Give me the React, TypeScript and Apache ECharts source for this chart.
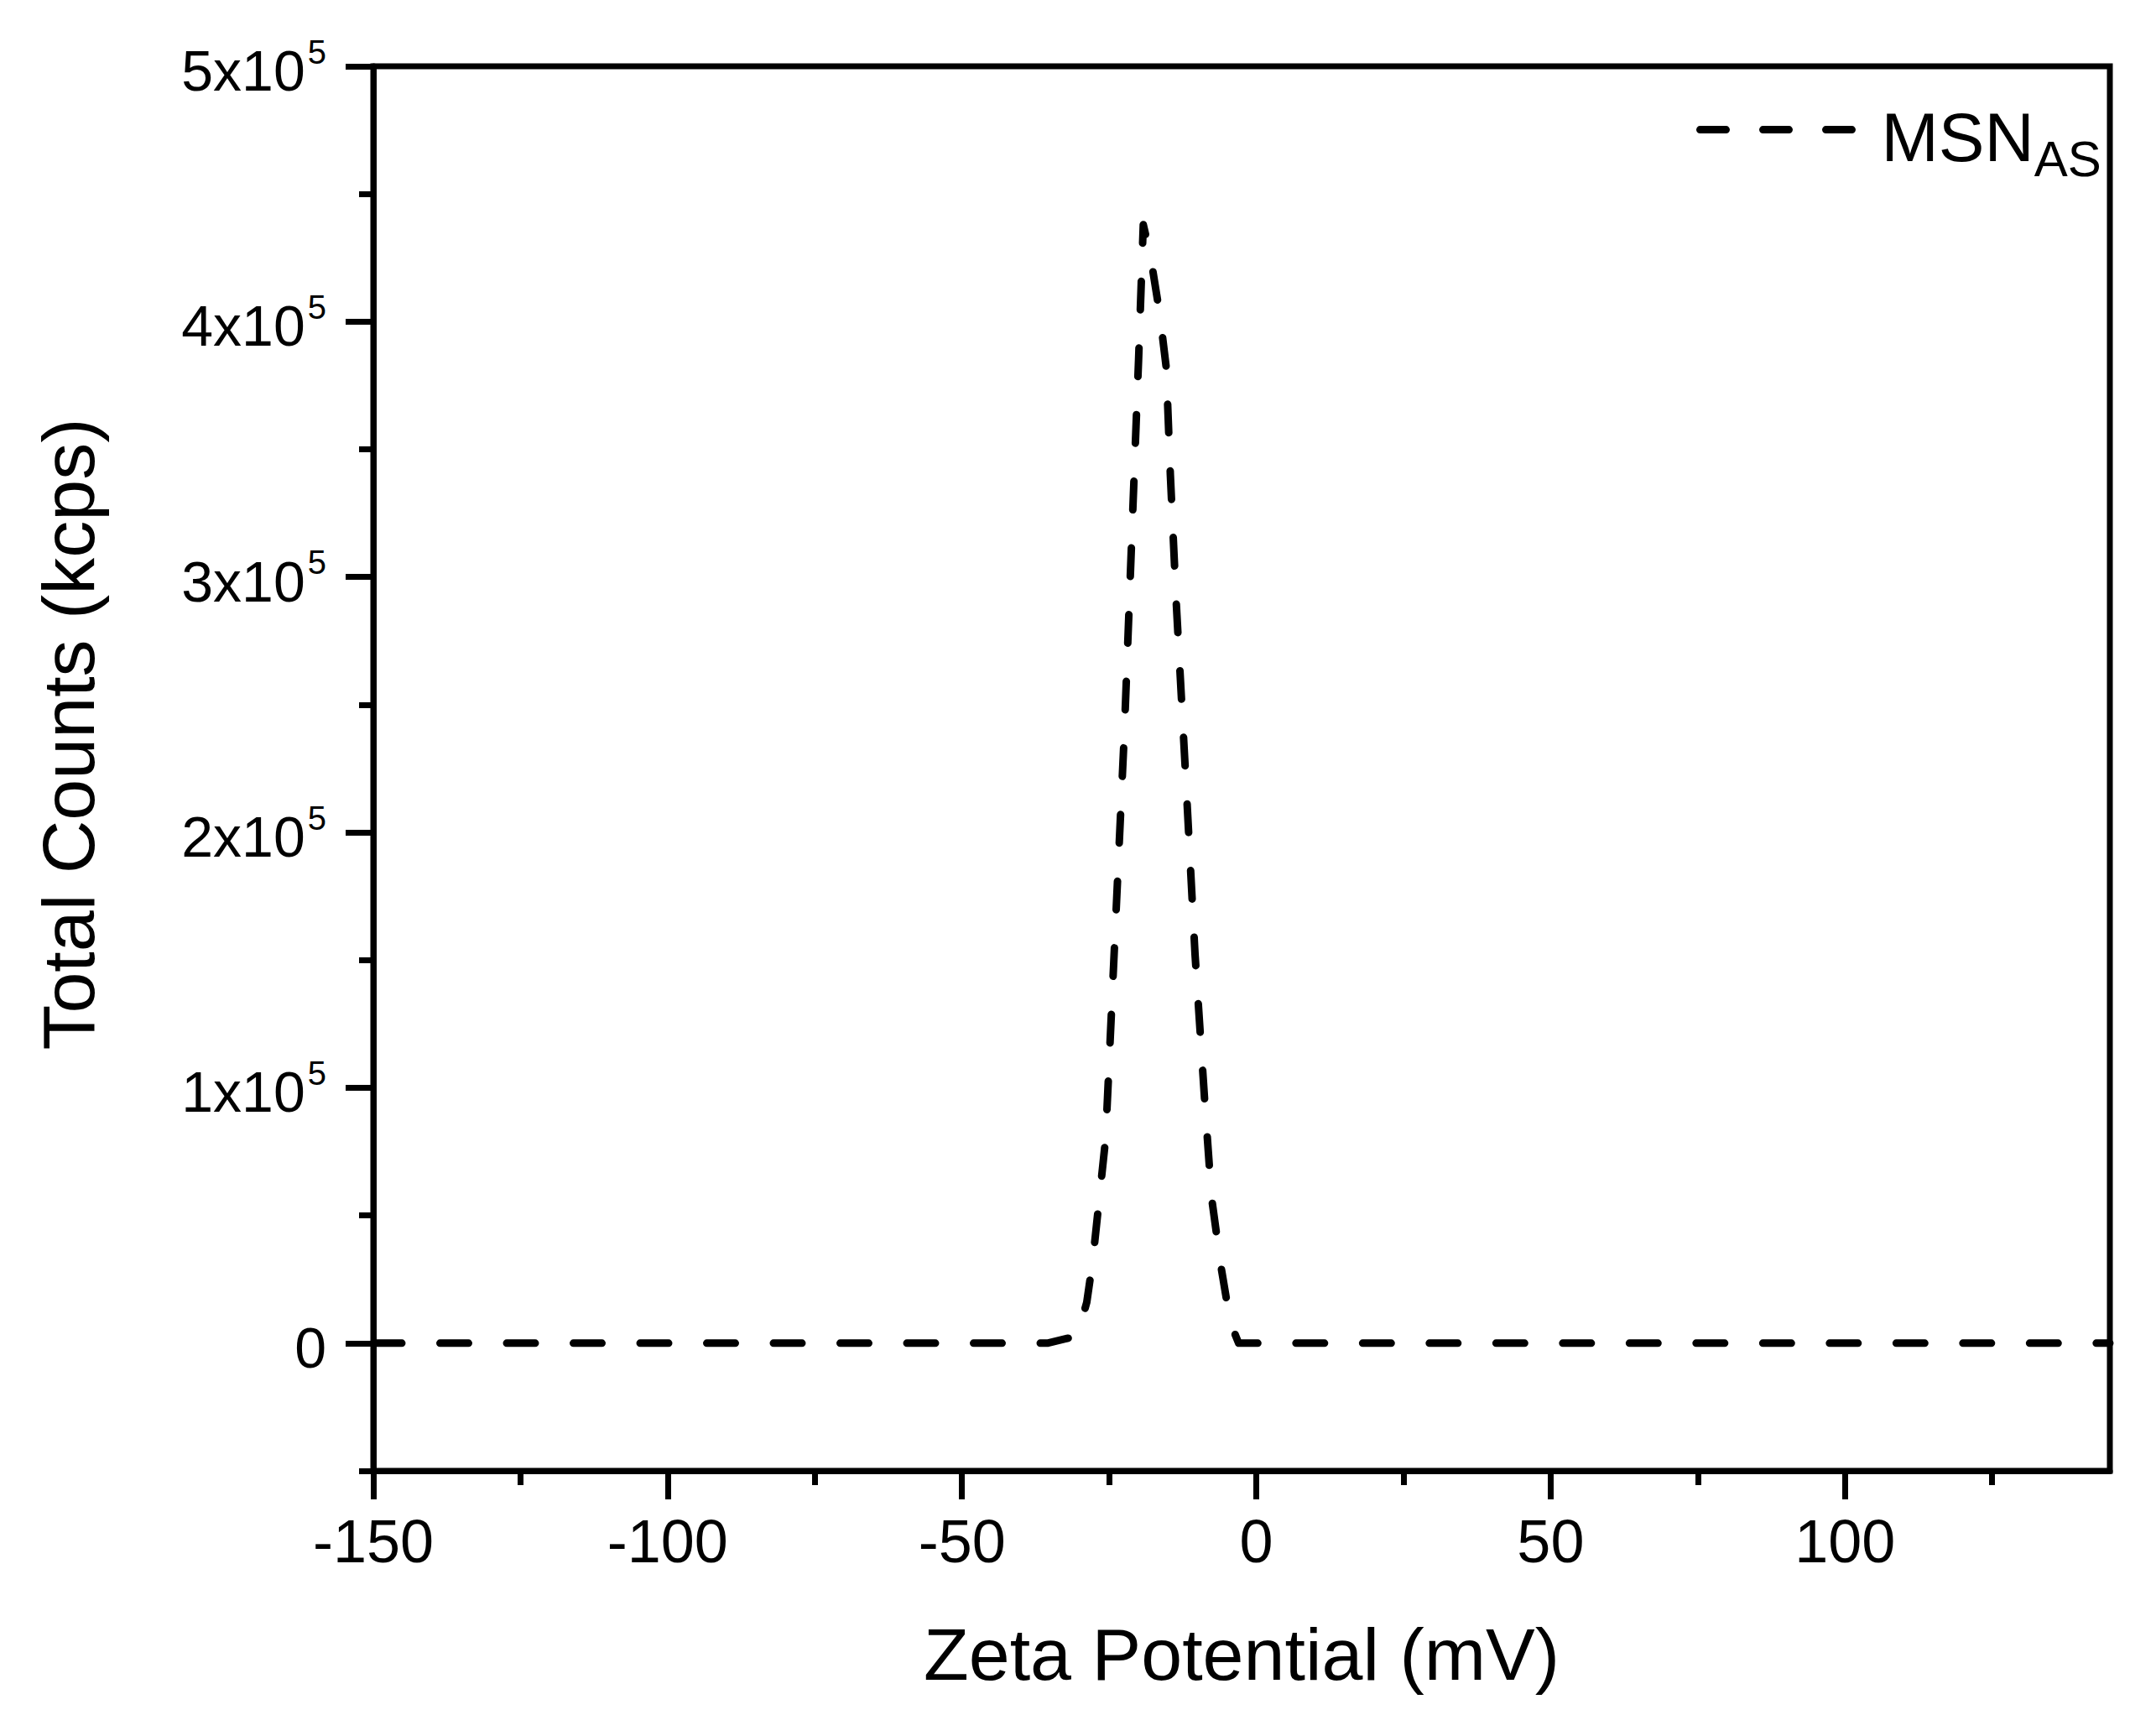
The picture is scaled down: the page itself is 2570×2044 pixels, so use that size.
import React, { useEffect, useRef } from "react";
import * as echarts from "echarts";

// ---- data ----
const zetaPotential = [
  -150, -35.5, -30.4, -28.8, -27.8, -25.6, -24.0, -22.4, -21.0, -20.0, -19.2,
  -18.0, -16.4, -15.3, -14.6, -13.6, -12.0, -10.4, -8.8, -7.6, -6.0, -4.4, -3.0, 145,
];
const totalCounts = [
  0, 0, 2800, 16000, 32000, 80000, 160000, 240000, 325000, 385000, 438000,
  426000, 403000, 382000, 340000, 290000, 222000, 152000, 96000, 57000, 30000, 8000, 0, 0,
];
const xMajorTicks = [-150, -100, -50, 0, 50, 100];
const xMinorTicks = [-125, -75, -25, 25, 75, 125];
const yMajorTicks = [0, 100000, 200000, 300000, 400000, 500000];
const yMinorTicks = [-50000, 50000, 150000, 250000, 350000, 450000];
const seriesName = "MSNAS";

const FONT = "'Liberation Sans', Arial, Helvetica, sans-serif";

export default function App() {
  const ref = useRef<HTMLDivElement>(null);

  useEffect(() => {
    if (!ref.current) return;
    const chart = echarts.init(ref.current, undefined, { renderer: "svg" });
    const data = zetaPotential.map((x, i) => [x, totalCounts[i]]);
    const gridBox = { left: 437, top: 71, right: 47, bottom: 283 };
    const tickStyle = { color: "#000", width: 7 };

    const option: any = {
      animation: false,
      backgroundColor: "#fff",
      textStyle: { fontFamily: FONT },
      grid: [
        { ...gridBox, show: true, borderColor: "#000", borderWidth: 7, backgroundColor: "transparent" },
        { ...gridBox, show: false },
      ],
      xAxis: [
        {
          type: "value",
          gridIndex: 0,
          min: -150,
          max: 145,
          position: "bottom",
          name: "Zeta Potential (mV)",
          nameLocation: "middle",
          nameGap: 174,
          nameTextStyle: { fontSize: 88, color: "#000", fontFamily: FONT },
          axisLine: { show: true, onZero: false, lineStyle: tickStyle },
          axisTick: { show: true, customValues: xMajorTicks, length: 34, lineStyle: tickStyle },
          axisLabel: {
            show: true,
            customValues: xMajorTicks,
            margin: 48,
            fontSize: 72,
            color: "#000",
            fontFamily: FONT,
          },
          splitLine: { show: false },
        },
        {
          type: "value",
          gridIndex: 1,
          min: -150,
          max: 145,
          position: "bottom",
          axisLine: { show: false, onZero: false },
          axisTick: { show: true, customValues: xMinorTicks, length: 17, lineStyle: tickStyle },
          axisLabel: { show: false },
          splitLine: { show: false },
        },
      ],
      yAxis: [
        {
          type: "value",
          gridIndex: 0,
          min: -50000,
          max: 500000,
          position: "left",
          name: "Total Counts (kcps)",
          nameLocation: "middle",
          nameRotate: 90,
          nameGap: 320,
          nameTextStyle: { fontSize: 88, color: "#000", fontFamily: FONT, padding: [0, 0, 0, 82] },
          axisLine: { show: true, onZero: false, lineStyle: tickStyle },
          axisTick: { show: true, customValues: yMajorTicks, length: 33, lineStyle: tickStyle },
          axisLabel: {
            show: true,
            customValues: yMajorTicks,
            margin: 56,
            color: "#000",
            padding: [10, 0, 0, 0],
            formatter: (v: number) =>
              v === 0 ? "{a|0}" : `{a|${Math.round(v / 100000)}x10}{b|5}`,
            rich: {
              a: { fontSize: 68, lineHeight: 85, fontFamily: FONT, color: "#000" },
              b: {
                fontSize: 40,
                lineHeight: 40,
                verticalAlign: "top",
                fontFamily: FONT,
                color: "#000",
                padding: [0, 0, 0, 3],
              },
            },
          },
          splitLine: { show: false },
        },
        {
          type: "value",
          gridIndex: 1,
          min: -50000,
          max: 500000,
          position: "left",
          axisLine: { show: false, onZero: false },
          axisTick: { show: true, customValues: yMinorTicks, length: 17, lineStyle: tickStyle },
          axisLabel: { show: false },
          splitLine: { show: false },
        },
      ],
      legend: {
        show: true,
        data: [seriesName],
        left: 2014,
        top: 95,
        padding: 0,
        itemWidth: 181,
        itemHeight: 129,
        selectedMode: false,
        formatter: () => "{m|MSN}{s|AS}",
        itemStyle: { opacity: 0, borderWidth: 0 },
        lineStyle: { color: "#000", width: 9, type: [31, 44], cap: "round" },
        textStyle: {
          color: "#000",
          padding: [32, 0, 0, 30],
          rich: {
            m: { fontSize: 82, lineHeight: 82, verticalAlign: "top", fontFamily: FONT, color: "#000" },
            s: { fontSize: 60, lineHeight: 97, verticalAlign: "bottom", fontFamily: FONT, color: "#000" },
          },
        },
      },
      series: [
        {
          type: "line",
          name: seriesName,
          xAxisIndex: 0,
          yAxisIndex: 0,
          data,
          symbol: "none",
          showSymbol: false,
          lineStyle: {
            color: "#000",
            width: 9,
            type: [34, 45.5],
            cap: "round",
            join: "round",
          },
        },
      ],
    };

    chart.setOption(option);
    return () => chart.dispose();
  }, []);

  return <div ref={ref} style={{ width: 2554, height: 2028 }} />;
}
